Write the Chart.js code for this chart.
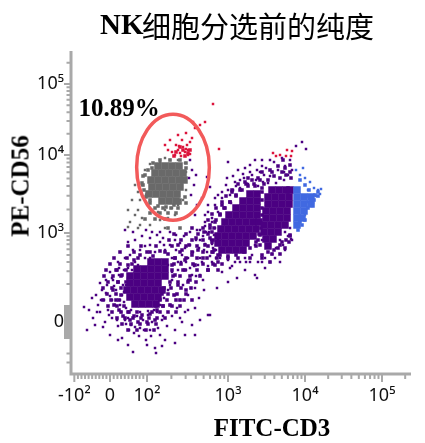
<!DOCTYPE html>
<html>
<head>
<meta charset="utf-8">
<script src="https://cdn.jsdelivr.net/npm/chart.js@4.4.1/dist/chart.umd.min.js"></script>
<style>
  html, body { margin: 0; padding: 0; background: #fff; }
  #wrap { position: relative; width: 425px; height: 443px; }
  #title { position: absolute; left: 0; top: 0; width: 425px; height: 45px; }
  #title span { position: absolute; white-space: nowrap; line-height: 1; }
  #title .nk { left: 100px; top: 8px; font: bold 29px 'Liberation Serif', serif; }
  #title .zh { left: 142px; top: 4px; font: 29px 'Noto Sans CJK SC', sans-serif; letter-spacing: 0; }
  .axis-title { position: absolute; font: bold 25px 'Liberation Serif', serif; line-height: 1; white-space: nowrap; }
  #xtitle { left: 272px; top: 427px; transform: translate(-50%, -50%); }
  #ytitle { left: 20px; top: 186px; transform: translate(-50%, -50%) rotate(-90deg); }
</style>
</head>
<body>
<div id="wrap">
  <canvas id="c" width="425" height="443"></canvas>
  <div id="title"><span class="nk">NK</span><span class="zh">细胞分选前的纯度</span></div>
  <div class="axis-title" id="ytitle">PE-CD56</div>
  <div class="axis-title" id="xtitle">FITC-CD3</div>
</div>
<script>
// axes: display channels (0-1020 / 0-969) with biexponential tick positions
var cd3TickValues = [-100, 0, 100, 1000, 10000, 100000];
var cd3TickChannels = [10, 117, 228, 471, 702, 933];
var cd3TickLabels = ['-10²', '0', '10²', '10³', '10⁴', '10⁵'];
var cd56TickValues = [-100, 0, 100, 1000, 10000, 100000];
var cd56TickChannels = [108, 156, 204, 423, 657, 870];
var cd56TickLabels = ['', '0', '', '10³', '10⁴', '10⁵'];

// gate: ellipse [cx, cy, rx, ry] in channels, label and its anchor
var nkGateEllipse = [306, 620, 109, 159];
var nkGateLabel = '10.89%';
var nkLabelAt = [144, 792];

// single events [CD3 channel, CD56 channel]
var eventsA = [
  [39,201],[48,132],[66,168],[75,237],[81,207],[87,186],[93,252],[99,222],[102,156],[108,267],
  [111,192],[117,234],[123,168],[126,282],[132,207],[135,252],[141,144],[144,297],[147,222],[150,186],
  [156,267],[159,312],[162,162],[165,198],[171,168],[180,147],[189,123],[198,174],[207,138],[216,162],
  [225,102],[231,177],[237,132],[243,156],[252,78],[258,186],[267,117],[171,87],[186,66],[141,102],
  [255,63],[273,162],[282,102],[297,207],[312,132],[327,168],[342,186],[363,147],[387,162],[417,177],
  [291,252],[303,282],[312,237],[321,312],[327,222],[336,267],[345,336],[351,237],[363,297],[372,258],
  [381,327],[303,348],[315,372],[282,372],[252,366],[222,348],[192,336],[171,318],[207,372],[237,387],
  [267,396],[177,357],[141,336],[117,306],
  [153,237],[159,216],[165,267],[171,288],[183,312],[201,327],[237,348],[291,327],[303,306],[297,267],
  [279,228],[267,207],[249,192],[231,189],[207,186],[180,192],
  [78,186],[90,222],[96,141],[105,243],[114,177],[123,222],[129,264],[138,162],[147,207],[159,246],
  [165,150],[174,132],[192,141],[204,114],[219,132],[240,114],[261,138],[276,174],[288,144],[303,174],
  [318,198],[333,156],[351,192],[372,198],[384,228],[399,252],[357,318],[375,294],[396,282],[330,336],
  [279,387],[297,387],[222,384],[186,372],[162,348],[144,318],[123,288],[105,282],[87,273],[63,228],
  [54,192],[72,147],[117,117],[153,108],[228,87],[273,84],[312,93],[342,117],[372,117],
  [192,402],[213,414],[237,408],[258,417],[276,408],[171,396],[225,432]
];
var eventsBridge = [
  [321,336],[333,357],[342,378],[351,348],[357,387],[366,366],[375,402],[384,378],[387,348],[396,414],
  [402,390],[408,366],[414,426],[420,402],[426,378],[432,438],[345,312],[369,324],[393,336],[327,393],
  [339,414],[357,426],[378,432],[402,444],[423,456],[312,402],[297,426],[351,282],[387,297],[411,324],
  [435,348],[441,402],[315,417],[282,438],[267,426],
  [498,288],[558,288],[438,258],[411,177],[453,306],[483,324],[525,336],[471,276],
  [387,402],[399,372],[417,354],[429,417],[405,426],[435,372],[447,348],[423,390]
];
var eventsNK = [
  [222,612],[213,567],[225,537],[207,522],[231,507],[243,492],[261,486],[282,492],[303,498],[321,507],
  [336,522],[345,552],[345,606],[267,636],[237,630],[297,642],[321,642],[342,633],[201,546],[192,477],
  [177,456],[213,468],[237,447],[267,462],[291,468],[312,477],[171,441],[201,438],
  [192,567],[183,522],[201,492],[171,492],[162,432],[186,426],[243,426],[207,447],[282,648],
  [312,657],[327,663],[342,666],[351,672],[357,660],[321,672],[336,681],[348,687],[303,666],[291,672],
  [315,687],[333,702],[357,696],[363,708],[297,702],[282,687],[321,717],[345,723],[372,738],[387,747],
  [402,756],[366,756],[426,810],[351,657],[330,654],[345,675],[324,684],[444,675],
  [357,642],[363,612],[354,588],[369,567],[360,537],[375,597],[378,507],[372,477],[393,528]
];
var eventsBC = [
  [432,528],[453,546],[465,567],[477,537],[492,576],[507,558],[519,588],[531,570],[543,597],[555,582],
  [567,606],[576,576],[585,618],[597,594],[609,636],[621,612],[633,648],[642,624],[651,597],[657,642],
  [639,582],[615,573],[591,573],[561,564],[480,513],[459,498],[441,486],[423,468],[411,507],[402,477],
  [468,588],[501,612],[537,627],[573,642],[471,636],[408,591],[417,561],[486,552],
  [402,456],[387,432],[411,486],[432,507],[453,528],[471,552],[495,564],[516,600],[537,606],[558,612],
  [579,597],[597,642],[615,654],[639,606],[663,612],[573,624],[552,642],[507,582],[486,594],[441,537],
  [522,618],
  [627,657],[648,672],[663,669],[645,654],[660,654],[606,663],
  [693,696],[705,675],[675,684],
  [675,612],[687,597],[702,588],[717,576],[696,618],[729,558],[741,552],[750,555],[735,534],[720,531],
  [708,516],[726,513],[711,552],[702,477],[660,405],[747,540],[723,504],
  [627,402],[642,426],[615,378],[603,360],[582,348],[561,336],[657,438],[651,414],[636,387],[597,336],
  [471,342],[492,336],[522,348],[543,357],[423,336],[552,387],[573,402],
  [507,336],[537,336],[573,336],[612,348],[642,372],[663,402],[477,318],[522,312],[582,318],[627,336],
  [552,297]
];
// medium density halos
var haloA = [
  [126,252],[135,222],[141,276],[144,192],[150,237],[129,207],[153,297],[138,312],
  [207,357],[228,366],[246,354],[267,369],[291,360],[312,348],[189,342],[171,327],
  [303,327],[312,297],[321,267],[309,237],[327,222],[297,207],[336,312],[345,252],[357,282],[363,222],
  [171,186],[189,174],[213,177],[237,180],[258,192],[276,204],[201,156],[228,156],[252,162],[177,162],[156,174],
  [171,384],[210,384],[255,384],[303,384],
  [147,366],[189,366],[237,366],[282,366],[327,366],
  [129,348],[168,348],[201,348],[312,348],[345,348],
  [117,330],[147,330],[183,330],[309,330],[330,330],[366,330],
  [105,312],[135,312],[165,312],[303,312],[342,312],[378,312],
  [99,294],[126,294],[150,294],[306,294],[327,294],[357,294],[387,294],
  [111,276],[141,276],[165,276],[297,276],[321,276],[351,276],[375,276],
  [96,258],[123,258],[150,258],[279,258],[300,258],[330,258],[360,258],
  [108,240],[135,240],[273,240],[291,240],[318,240],[345,240],
  [96,222],[120,222],[144,222],[267,222],[288,222],[315,222],[339,222],
  [111,204],[138,204],[159,204],[255,204],[276,204],[303,204],[327,204],
  [123,186],[150,186],[174,186],[198,186],[243,186],[267,186],[291,186],[315,186],
  [138,168],[162,168],[186,168],[210,168],[234,168],[258,168],[282,168],
  [153,150],[180,150],[207,150],[231,150],[255,150],
  [171,132],[198,132],[225,132],[249,132]
];
var haloBridge = [
  [342,342],[363,357],[381,372],[402,387],[417,408],[372,327],[396,348],[423,366],[354,387],[375,408],
  [399,426],[429,438],[333,372],[321,387],[411,312],[432,327],[441,357],
  [291,438],[327,438],[363,438],[396,438],
  [309,420],[345,420],[381,420],[411,420],
  [294,402],[330,402],[363,402],[396,402],[426,402],
  [345,384],[378,384],[411,384],
  [363,366],[396,366],[426,366],
  [378,348],[408,348],[438,348],
  [396,330],[426,330],[453,330],
  [411,312],[441,312]
];
var haloB = [
  [423,426],[432,456],[447,477],[462,498],[477,516],[495,537],[513,552],[531,564],[453,507],[483,546],
  [417,447],[552,564],[573,558],[543,582],[567,582],[522,576],
  [447,357],[471,354],[495,357],[519,366],[537,378],[555,396],[567,417],[429,372],[423,396],
  [531,588],[561,588],[501,570],[525,570],[549,570],[483,552],[507,552],
  [465,534],[495,534],[453,516],[477,516],[435,498],[459,498],[423,480],[447,480],
  [411,462],[435,462],[417,438],
  [471,348],[501,348],[537,348],[573,348],[441,336],
  [573,546],[573,522],[561,402],[555,384],[567,387],
  [573,498],[573,477],[570,438],[564,420]
];
var haloC = [
  [591,582],[609,594],[627,588],[645,597],[660,588],[597,612],[621,624],[642,618],[657,627],[636,642],
  [573,357],[591,366],[609,372],[627,387],[645,402],[657,417],
  [573,606],[603,606],[633,606],[657,606],[579,570],
  [597,336],[603,360],[627,360],[621,378],[642,378],[633,396],[654,396],[657,414],
  [705,534],[720,522],[732,537],[741,546],[687,582],[702,567],[714,552],[693,447],[702,462],[681,432],
  [729,522],[741,534],[711,498],[702,486],[687,456]
];
var haloNK = [
  [222,597],[216,567],[228,537],[237,522],[261,504],[285,501],[309,507],[327,522],[243,618],[345,618],
  [267,642],[297,642],[327,642],[246,633],[345,633],[231,612],[216,594],[213,573],[219,552],
  [225,531],[342,531],[237,513],[327,513],[345,513],[252,498],[276,498],[300,498],[321,498],
  [237,483],[267,483],[291,483],[315,483],[222,465],[252,465],[282,465],
  [315,666],[336,672],[351,663],[327,681],[309,654],[342,654],[357,672]
];
// dense cores
var coreA = [
  [240,336],[261,336],[282,336],
  [198,315],[219,315],[240,315],[261,315],[282,315],
  [177,294],[198,294],[219,294],[240,294],[261,294],[282,294],
  [177,273],[198,273],[219,273],[240,273],[261,273],
  [168,252],[189,252],[210,252],[231,252],[252,252],[273,252],
  [177,231],[198,231],[219,231],[240,231],[261,231],
  [192,210],[213,210],[234,210],[255,210]
];
var coreNK = [
  [261,624],[282,624],[303,624],[324,624],
  [252,603],[273,603],[294,603],[315,603],[336,603],
  [240,582],[261,582],[282,582],[303,582],[324,582],[339,582],
  [243,561],[264,561],[285,561],[306,561],[327,561],
  [234,540],[255,540],[276,540],[297,540],[318,540],
  [273,519],[294,519],[315,519]
];
var coreB = [
  [537,540],[558,540],
  [516,519],[537,519],[558,519],
  [495,498],[516,498],[537,498],[558,498],
  [474,477],[495,477],[516,477],[537,477],[558,477],
  [462,456],[483,456],[504,456],[525,456],[546,456],[564,456],
  [450,435],[471,435],[492,435],[513,435],[534,435],[555,435],
  [441,414],[462,414],[483,414],[504,414],[525,414],[546,414],
  [441,393],[462,393],[483,393],[504,393],[525,393],
  [453,372],[474,372],[495,372],[516,372]
];
var coreC = [
  [603,552],[624,552],[645,552],[657,552],
  [591,531],[612,531],[633,531],[654,531],
  [591,510],[612,510],[633,510],[654,510],
  [585,489],[606,489],[627,489],[648,489],
  [585,468],[606,468],[627,468],[648,468],
  [579,447],[600,447],[621,447],[642,447],
  [579,426],[600,426],[621,426],
  [585,405],[606,405],
  [591,384]
];
var coreBlue = [
  [678,552],
  [678,531],[699,531],[720,531],
  [678,510],[699,510],[720,510],
  [678,489],[699,489],
  [678,468],[693,468],
  [678,447]
];

var purple = '#4b0082', grey = '#696969', red = '#dc143c', blue = '#4169e1';
var axisGrey = '#a9a9a9';

// population colour from the gates
function popColor(ctx) {
    var p = ctx.raw;
    if (!p) return purple;
    if (p.y > 651 && p.x < 666) return red;
    if (p.x >= 666 && p.y < 650) return blue;
    if (p.x < 352 && p.y > 435) return grey;
    return purple;
}

function toPts(arr) {
    return arr.map(function(p) { return { x: p[0], y: p[1] }; });
}

// intensity -> channel, for the unlabelled minor ticks
function toChannel(v, vals, chans) {
    if (v < vals[0]) {
        return chans[0] - (Math.log10(-v) - 2) * (chans[3] - chans[2]) * 0.7;
    }
    if (v <= 0) return chans[0] + (v - vals[0]) / (0 - vals[0]) * (chans[1] - chans[0]);
    if (v <= vals[2]) return chans[1] + v / vals[2] * (chans[2] - chans[1]);
    var n = Math.floor(Math.log10(v) + 1e-9);
    var i = vals.indexOf(Math.pow(10, n));
    var dec = i + 1 < chans.length ? chans[i + 1] - chans[i] : chans[i] - chans[i - 1];
    return chans[i] + (Math.log10(v) - n) * dec;
}

function minorValues(step) {
    var out = [];
    for (var v = -100 + step; v < 100; v += step) if (v !== 0) out.push(v);
    for (var n = 2; n <= 5; n++)
        for (var m = 2; m <= 9; m++) out.push(m * Math.pow(10, n));
    out.push(-200, -300);
    return out;
}

var axisTicks = {
    id: 'axisTicks',
    afterDraw: function(chart) {
        var ctx = chart.ctx, x = chart.scales.x, y = chart.scales.y, a = chart.chartArea;
        ctx.save();
        ctx.strokeStyle = axisGrey;
        ctx.lineWidth = 2;
        ctx.beginPath();
        minorValues(10).forEach(function(v) {
            var c = toChannel(v, cd3TickValues, cd3TickChannels);
            if (c < x.min || c > x.max) return;
            var px = x.getPixelForValue(c);
            ctx.moveTo(px, a.bottom); ctx.lineTo(px, a.bottom + 5);
        });
        cd3TickChannels.forEach(function(c) {
            var px = x.getPixelForValue(c);
            ctx.moveTo(px, a.bottom); ctx.lineTo(px, a.bottom + 8);
        });
        minorValues(10).forEach(function(v) {
            var c = toChannel(v, cd56TickValues, cd56TickChannels);
            if (c < y.min || c > y.max) return;
            var py = y.getPixelForValue(c);
            var len = Math.abs(v) < 100 ? 7 : 4.5;
            ctx.moveTo(a.left, py); ctx.lineTo(a.left - len, py);
        });
        cd56TickChannels.forEach(function(c) {
            var py = y.getPixelForValue(c);
            ctx.moveTo(a.left, py); ctx.lineTo(a.left - 7, py);
        });
        ctx.stroke();
        ctx.lineWidth = 3;
        ctx.beginPath();
        ctx.moveTo(a.left, a.top); ctx.lineTo(a.left, a.bottom + 1.5);
        ctx.moveTo(a.left - 1.5, a.bottom); ctx.lineTo(a.right, a.bottom);
        ctx.stroke();
        ctx.restore();
    }
};

var nkGate = {
    id: 'nkGate',
    afterDatasetsDraw: function(chart) {
        var ctx = chart.ctx, x = chart.scales.x, y = chart.scales.y;
        var cx = nkGateEllipse[0], cy = nkGateEllipse[1];
        var px = x.getPixelForValue(cx), py = y.getPixelForValue(cy);
        var rx = x.getPixelForValue(cx + nkGateEllipse[2]) - px;
        var ry = py - y.getPixelForValue(cy + nkGateEllipse[3]);
        ctx.save();
        ctx.strokeStyle = '#f25a5a';
        ctx.lineWidth = 3.5;
        ctx.beginPath();
        ctx.ellipse(px, py, rx, ry, 0, 0, 2 * Math.PI);
        ctx.stroke();
        ctx.font = "bold 25px 'Liberation Serif', serif";
        ctx.fillStyle = '#000';
        ctx.textAlign = 'center';
        ctx.textBaseline = 'middle';
        ctx.fillText(nkGateLabel, x.getPixelForValue(nkLabelAt[0]), y.getPixelForValue(nkLabelAt[1]));
        ctx.restore();
    }
};

var tickFont = { family: "'Noto Sans', 'DejaVu Sans', sans-serif", size: 18 };

function dotSet(label, arrays, radius) {
    return {
        label: label,
        data: toPts([].concat.apply([], arrays)),
        pointStyle: 'rect',
        pointRadius: radius,
        borderWidth: 0,
        backgroundColor: popColor
    };
}

new Chart(document.getElementById('c'), {
    type: 'scatter',
    data: {
        datasets: [
            dotSet('events', [eventsA, eventsBridge, eventsNK, eventsBC], 1.75),
            dotSet('halo', [haloA, haloBridge, haloB, haloC, haloNK], 2.5),
            dotSet('dense', [coreA, coreNK, coreB, coreC, coreBlue], 5.3)
        ]
    },
    options: {
        responsive: false,
        animation: false,
        events: [],
        layout: { padding: { left: 0, right: 14, top: 51, bottom: 0 } },
        plugins: { legend: { display: false }, tooltip: { enabled: false } },
        scales: {
            x: {
                type: 'linear', min: 0, max: 1020,
                grid: { display: false, drawTicks: false },
                border: { display: false },
                afterBuildTicks: function(s) { s.ticks = cd3TickChannels.map(function(v) { return { value: v }; }); },
                afterFit: function(s) { s.height = 69; },
                ticks: {
                    autoSkip: false, maxRotation: 0, minRotation: 0, padding: 11,
                    color: '#111', font: tickFont,
                    callback: function(v, i) { return cd3TickLabels[i]; }
                }
            },
            y: {
                type: 'linear', min: 0, max: 969,
                grid: { display: false, drawTicks: false },
                border: { display: false },
                afterBuildTicks: function(s) {
                    s.ticks = cd56TickChannels.filter(function(v, i) { return cd56TickLabels[i] !== ''; })
                        .map(function(v) { return { value: v }; });
                },
                afterFit: function(s) { s.width = 71; },
                ticks: {
                    autoSkip: false, padding: 7,
                    color: '#111', font: tickFont,
                    callback: function(v) { return cd56TickLabels[cd56TickChannels.indexOf(v)]; }
                }
            }
        }
    },
    plugins: [axisTicks, nkGate]
});
</script>
</body>
</html>
